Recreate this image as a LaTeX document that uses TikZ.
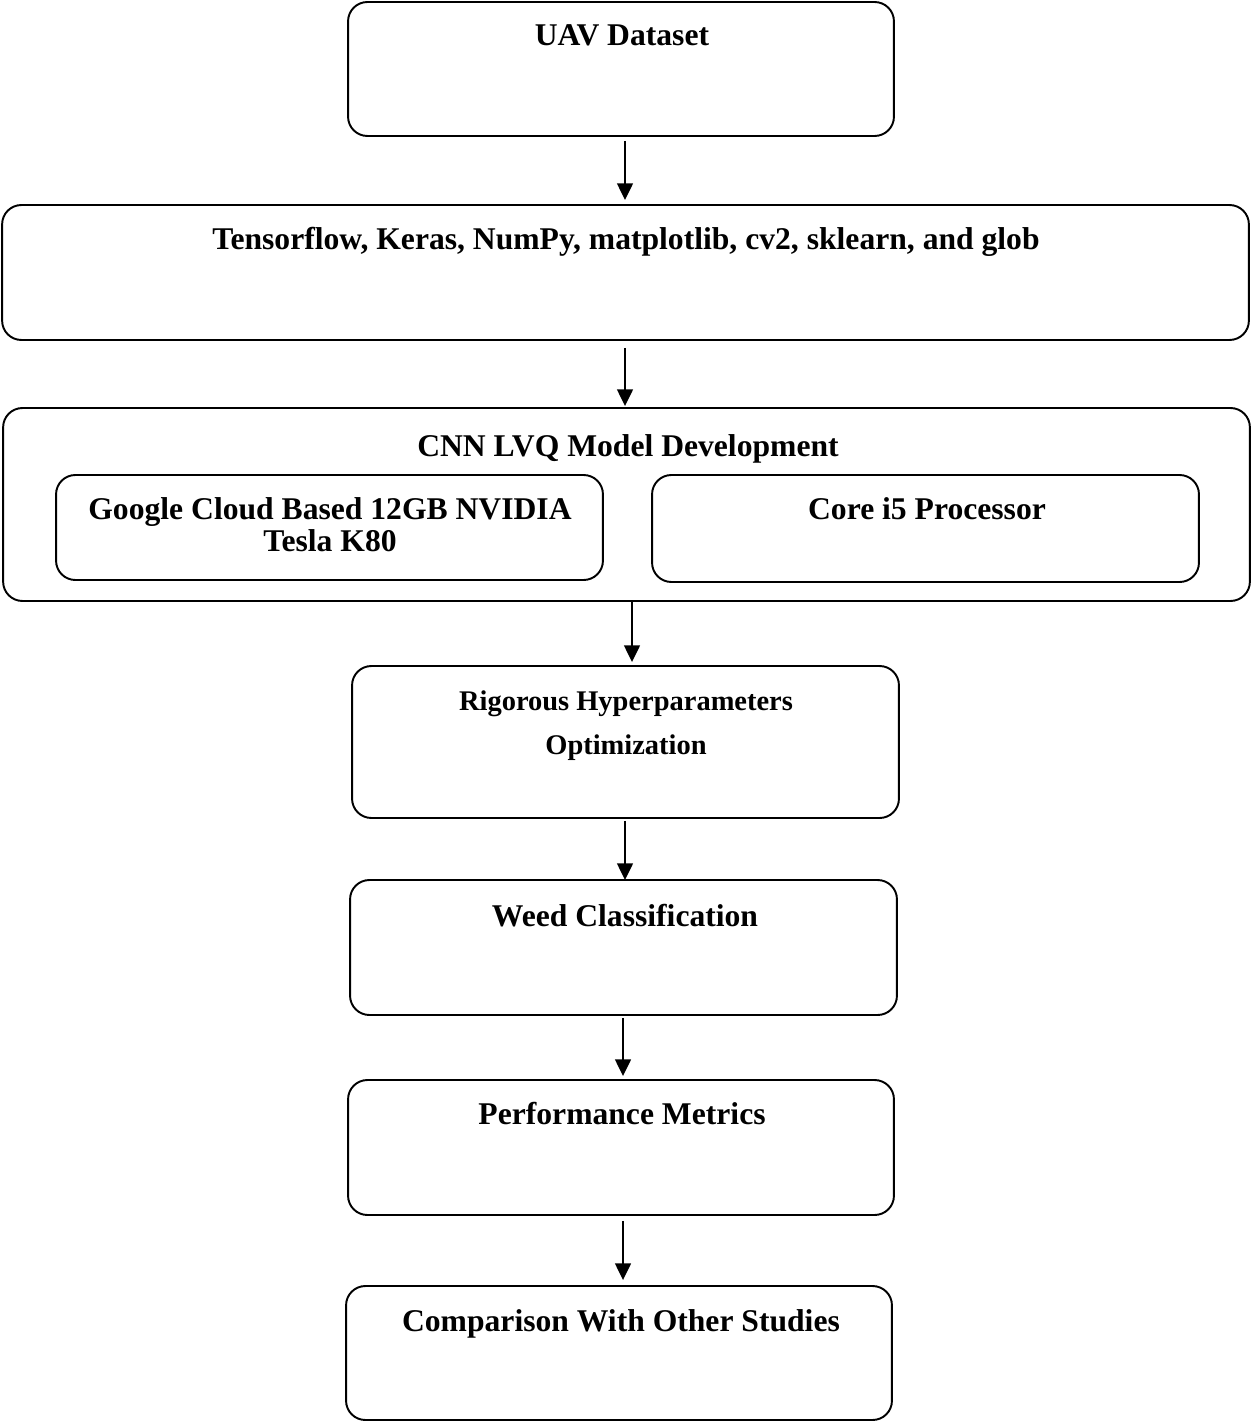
\documentclass[tikz,border=0pt]{standalone}
\usepackage{fontspec}
\setmainfont{Liberation Serif}
\usetikzlibrary{arrows.meta,calc}
\tikzset{
  box/.style={draw,line width=1.1pt,rounded corners=11pt,inner sep=0pt},
  ttl/.style={font=\fontsize{18}{21}\selectfont\bfseries,anchor=base,inner sep=0pt},
  ttls/.style={font=\fontsize{16.2}{19}\selectfont\bfseries,anchor=base,inner sep=0pt},
  arr/.style={line width=1.1pt,-{Triangle[length=9.5pt,width=9pt]}}
}
\begin{document}
\begin{tikzpicture}[x=0.02cm,y=-0.02cm]
\useasboundingbox (0,0) rectangle (1252,1422);
\node[box,minimum width=10.92cm,minimum height=2.68cm] (b1) at (621,69) {};
\node[box,minimum width=24.94cm,minimum height=2.70cm] (b2) at (625.5,272.5) {};
\node[box,minimum width=24.94cm,minimum height=3.86cm] (b3) at (626.5,504.5) {};
\node[box,minimum width=10.94cm,minimum height=2.10cm] (b3a) at (329.5,527.5) {};
\node[box,minimum width=10.94cm,minimum height=2.14cm] (b3b) at (925.5,528.5) {};
\node[box,minimum width=10.94cm,minimum height=3.04cm] (b4) at (625.5,742) {};
\node[box,minimum width=10.94cm,minimum height=2.70cm] (b5) at (623.5,947.5) {};
\node[box,minimum width=10.92cm,minimum height=2.70cm] (b6) at (621,1147.5) {};
\node[box,minimum width=10.92cm,minimum height=2.68cm] (b7) at (619,1353) {};

\node[ttl] (t1) at (622,46) {UAV Dataset};
\node[ttl] (t2) at (626,250) {Tensorflow, Keras, NumPy, matplotlib, cv2, sklearn, and glob};
\node[ttl] (t3) at (628,456) {CNN LVQ Model Development};
\node[ttl] (t3a1) at (330,519) {Google Cloud Based 12GB NVIDIA};
\node[ttl] (t3a2) at (330,551) {Tesla K80};
\node[ttl] (t3b) at (927,519) {Core i5 Processor};
\node[ttls] (t4a) at (626,710) {Rigorous Hyperparameters};
\node[ttls] (t4b) at (626,754) {Optimization};
\node[ttl] (t5) at (625,926) {Weed Classification};
\node[ttl] (t6) at (622,1124) {Performance Metrics};
\node[ttl] (t7) at (621,1331) {Comparison With Other Studies};

\draw[arr] ([xshift=0.08cm,yshift=-0.08cm]b1.south) -- ([xshift=0.08cm,yshift=0.08cm]b1.south |- b2.north);
\draw[arr] ([xshift=-0.01cm,yshift=-0.14cm]b2.south) -- ([xshift=-0.01cm,yshift=0.02cm]b2.south |- b3.north);
\draw[arr] ([xshift=0.11cm]b3.south) -- ([xshift=0.11cm,yshift=0.06cm]b3.south |- b4.north);
\draw[arr] ([xshift=-0.01cm,yshift=-0.04cm]b4.south) -- ([xshift=-0.01cm,yshift=-0.02cm]b4.south |- b5.north);
\draw[arr] ([xshift=-0.01cm,yshift=-0.04cm]b5.south) -- ([xshift=-0.01cm,yshift=0.06cm]b5.south |- b6.north);
\draw[arr] ([xshift=0.04cm,yshift=-0.1cm]b6.south) -- ([xshift=0.04cm,yshift=0.1cm]b6.south |- b7.north);
\end{tikzpicture}
\end{document}
